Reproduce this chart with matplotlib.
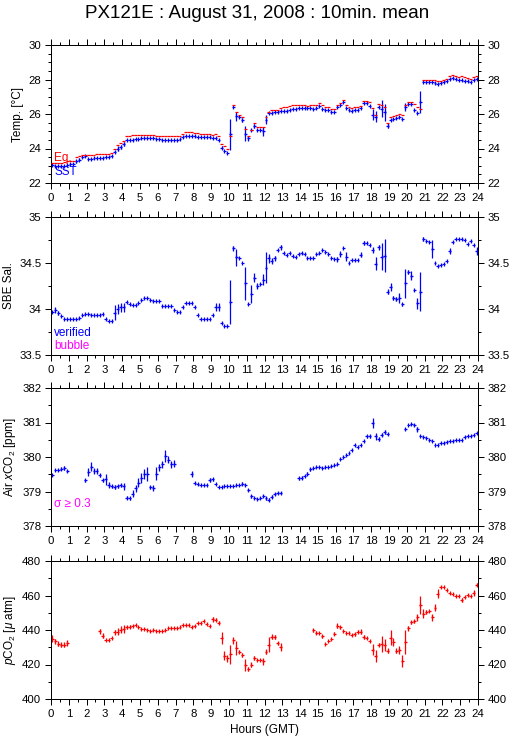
import numpy as np
import matplotlib
matplotlib.use("Agg")
import matplotlib.pyplot as plt
from matplotlib.ticker import MultipleLocator, FormatStrFormatter

nan = np.nan

# ---- data: 10-minute means, 6 slots per hour (rows = hours 0..23) ----
eq_temp = [
    [23.18, 23.18, 23.18, 23.18, 23.20, 23.25],
    [23.30, 23.30, 23.50, 23.55, 23.62, 23.65],
    [23.60, 23.60, 23.62, 23.68, 23.70, 23.70],
    [23.70, 23.70, 23.72, 24.00, 24.20, 24.30],
    [24.45, 24.72, 24.75, 24.77, 24.77, 24.78],
    [24.78, 24.80, 24.80, 24.78, 24.77, 24.75],
    [24.73, 24.70, 24.70, 24.70, 24.72, 24.72],
    [24.72, 24.75, 24.85, 24.95, 24.98, 24.97],
    [24.90, 24.87, 24.85, 24.85, 24.85, 24.83],
    [24.80, 24.82, 24.70, 24.28, 24.12, 24.00],
    [24.75, 26.53, 26.12, 25.95, 25.83, 25.15],
    [24.72, 25.05, 25.48, 25.25, 25.27, 25.25],
    [25.80, 26.12, 26.22, 26.25, 26.26, 26.35],
    [26.38, 26.40, 26.45, 26.50, 26.50, 26.50],
    [26.50, 26.50, 26.48, 26.50, 26.50, 26.55],
    [26.62, 26.55, 26.42, 26.42, 26.28, 26.27],
    [26.50, 26.65, 26.84, 26.52, 26.38, 26.35],
    [26.38, 26.40, 26.48, 26.75, 26.76, 26.72],
    [26.32, 25.95, 26.58, 26.55, 26.42, 25.50],
    [25.85, 25.90, 25.97, 26.00, 25.95, 26.55],
    [26.72, 26.72, 26.60, 26.38, 26.30, 27.97],
    [27.98, 27.98, 27.97, 27.95, 27.93, 27.93],
    [28.00, 28.05, 28.20, 28.24, 28.22, 28.12],
    [28.20, 28.12, 28.10, 28.05, 28.15, 28.20],
]
sst = [
    [23.02, 23.00, 23.00, 22.96, 22.98, 23.05],
    [23.08, 23.08, 23.25, 23.35, 23.50, 23.55],
    [23.38, 23.38, 23.45, 23.47, 23.47, 23.47],
    [23.50, 23.50, 23.55, 23.80, 24.00, 24.10],
    [24.25, 24.52, 24.52, 24.52, 24.53, 24.55],
    [24.60, 24.62, 24.62, 24.60, 24.58, 24.57],
    [24.55, 24.50, 24.48, 24.48, 24.50, 24.52],
    [24.50, 24.55, 24.65, 24.72, 24.75, 24.75],
    [24.72, 24.68, 24.66, 24.67, 24.67, 24.65],
    [24.60, 24.62, 24.50, 24.05, 23.86, 23.74],
    [24.83, 26.43, 25.87, 25.85, 25.64, 24.86],
    [24.60, 25.05, 25.30, 25.08, 25.05, 25.00],
    [25.68, 26.05, 26.08, 26.10, 26.10, 26.18],
    [26.18, 26.15, 26.25, 26.30, 26.30, 26.32],
    [26.32, 26.33, 26.35, 26.32, 26.30, 26.35],
    [26.45, 26.30, 26.26, 26.24, 26.10, 26.10],
    [26.41, 26.55, 26.68, 26.32, 26.22, 26.20],
    [26.22, 26.24, 26.35, 26.62, 26.63, 26.47],
    [25.97, 25.85, 26.38, 26.30, 26.10, 25.33],
    [25.68, 25.70, 25.75, 25.80, 25.72, 26.41],
    [26.60, 26.58, 26.25, 26.08, 26.70, 27.87],
    [27.87, 27.86, 27.85, 27.78, 27.76, 27.77],
    [27.85, 27.90, 28.05, 28.07, 28.05, 27.95],
    [27.97, 27.93, 27.92, 27.85, 28.00, 28.05],
]
sst_std = [
    [0, 0, 0, 0, 0, 0],
    [0, 0, 0.10, 0.10, 0, 0],
    [0, 0, 0, 0, 0, 0],
    [0, 0, 0, 0.05, 0.12, 0.12],
    [0.10, 0, 0, 0, 0, 0],
    [0, 0, 0, 0, 0, 0],
    [0, 0, 0, 0, 0, 0],
    [0, 0, 0, 0, 0, 0],
    [0, 0, 0, 0, 0, 0],
    [0, 0, 0, 0.08, 0, 0],
    [0.90, 0, 0.27, 0, 0.10, 0.42],
    [0.15, 0, 0.12, 0, 0, 0.25],
    [0.25, 0, 0, 0, 0, 0],
    [0, 0, 0, 0, 0, 0],
    [0, 0, 0, 0, 0, 0],
    [0, 0, 0, 0, 0, 0],
    [0, 0, 0, 0, 0, 0],
    [0, 0, 0, 0, 0, 0],
    [0.30, 0.32, 0, 0.50, 0.50, 0.12],
    [0, 0, 0, 0, 0, 0.25],
    [0, 0, 0, 0, 0.62, 0],
    [0, 0, 0, 0, 0, 0],
    [0, 0, 0, 0, 0, 0],
    [0, 0, 0, 0, 0, 0],
]
salinity = [
    [33.965, 33.99, 33.96, 33.92, 33.89, 33.89],
    [33.89, 33.89, 33.89, 33.90, 33.93, 33.95],
    [33.95, 33.93, 33.93, 33.93, 33.94, 33.945],
    [33.89, 33.865, 33.865, 33.96, 34.00, 34.02],
    [34.02, 34.08, 34.05, 34.04, 34.04, 34.07],
    [34.10, 34.12, 34.12, 34.10, 34.09, 34.09],
    [34.09, 34.03, 34.03, 34.03, 34.03, 33.99],
    [33.97, 33.97, 34.02, 34.06, 34.07, 34.07],
    [34.02, 33.93, 33.89, 33.89, 33.89, 33.89],
    [33.93, 34.02, 34.02, 33.845, 33.82, 33.81],
    [34.08, 34.66, 34.56, 34.55, 34.50, 34.28],
    [34.055, 34.16, 34.34, 34.25, 34.27, 34.32],
    [34.45, 34.55, 34.52, 34.55, 34.64, 34.67],
    [34.61, 34.59, 34.61, 34.58, 34.56, 34.60],
    [34.61, 34.60, 34.55, 34.55, 34.55, 34.60],
    [34.61, 34.64, 34.62, 34.60, 34.55, 34.54],
    [34.54, 34.60, 34.66, 34.57, 34.50, 34.53],
    [34.53, 34.53, 34.59, 34.72, 34.72, 34.70],
    [34.64, 34.49, 34.67, 34.57, 34.58, 34.19],
    [34.24, 34.12, 34.11, 34.12, 34.05, 34.28],
    [34.40, 34.36, 34.21, 34.06, 34.19, 34.76],
    [34.74, 34.73, 34.65, 34.50, 34.47, 34.48],
    [34.49, 34.52, 34.63, 34.73, 34.76, 34.76],
    [34.76, 34.75, 34.71, 34.74, 34.70, 34.63],
]
sal_std = [
    [0, 0.03, 0.02, 0, 0, 0],
    [0, 0, 0, 0, 0, 0],
    [0, 0, 0, 0, 0, 0],
    [0, 0, 0, 0.08, 0.05, 0.05],
    [0.05, 0, 0, 0, 0, 0],
    [0, 0, 0, 0, 0, 0],
    [0, 0, 0, 0, 0, 0],
    [0, 0, 0, 0, 0, 0],
    [0, 0, 0, 0, 0, 0],
    [0, 0.04, 0.04, 0, 0, 0],
    [0.24, 0.03, 0.09, 0, 0, 0.18],
    [0, 0.10, 0.05, 0.03, 0, 0.06],
    [0.17, 0.05, 0.03, 0.03, 0, 0.03],
    [0, 0, 0, 0, 0, 0],
    [0, 0, 0, 0, 0, 0],
    [0, 0, 0, 0, 0, 0],
    [0.03, 0.03, 0, 0.05, 0, 0],
    [0, 0, 0.03, 0.02, 0, 0],
    [0.03, 0.07, 0.03, 0.15, 0.18, 0.03],
    [0.04, 0.02, 0.02, 0.05, 0.02, 0.16],
    [0.02, 0.05, 0, 0.06, 0.21, 0.02],
    [0, 0, 0.10, 0, 0, 0],
    [0, 0, 0.03, 0, 0, 0],
    [0, 0, 0, 0, 0, 0.04],
]
air_xco2 = [
    [379.47, 379.63, 379.63, 379.66, 379.68, 379.59],
    [nan, nan, nan, nan, nan, 379.32],
    [379.57, 379.72, 379.60, 379.60, 379.47, 379.32],
    [379.35, 379.19, 379.15, 379.13, 379.15, 379.18],
    [379.15, 378.82, 378.80, 378.93, 379.09, 379.26],
    [379.40, 379.51, 379.50, 379.12, 379.10, 379.52],
    [379.70, 379.79, 380.03, 379.92, 379.79, 379.80],
    [nan, nan, nan, nan, nan, 379.50],
    [379.26, 379.23, 379.20, 379.20, 379.20, 379.33],
    [379.35, 379.23, 379.13, 379.13, 379.17, 379.16],
    [379.15, 379.17, 379.20, 379.20, 379.23, 379.20],
    [379.05, 378.86, 378.82, 378.79, 378.80, 378.87],
    [378.80, 378.76, 378.85, 378.93, 378.97, 378.97],
    [nan, nan, nan, nan, nan, 379.38],
    [379.40, 379.45, 379.52, 379.64, 379.68, 379.70],
    [379.70, 379.68, 379.70, 379.70, 379.75, 379.77],
    [379.80, 379.94, 380.00, 380.05, 380.12, 380.20],
    [380.34, 380.30, 380.35, 380.45, 380.60, 380.60],
    [380.98, 380.60, 380.52, 380.65, 380.72, 380.67],
    [nan, nan, nan, nan, nan, 380.81],
    [380.92, 380.97, 380.92, 380.80, 380.62, 380.58],
    [380.55, 380.50, 380.45, 380.35, 380.35, 380.40],
    [380.42, 380.43, 380.47, 380.47, 380.48, 380.50],
    [380.50, 380.58, 380.60, 380.62, 380.65, 380.70],
]
xco2_std = [
    [0, 0, 0.03, 0.05, 0.05, 0.03],
    [0, 0, 0, 0, 0, 0.05],
    [0.12, 0.13, 0.08, 0.08, 0.05, 0.05],
    [0.15, 0.08, 0.05, 0.05, 0.05, 0.05],
    [0.10, 0.05, 0.05, 0.10, 0.10, 0.12],
    [0.15, 0.15, 0.20, 0.05, 0.08, 0.20],
    [0.10, 0.10, 0.17, 0.10, 0.10, 0.10],
    [0, 0, 0, 0, 0, 0.08],
    [0, 0, 0, 0, 0, 0.05],
    [0.04, 0, 0, 0, 0, 0],
    [0, 0, 0, 0, 0.05, 0],
    [0.03, 0.05, 0, 0, 0, 0.04],
    [0.05, 0.04, 0.04, 0.04, 0.03, 0.03],
    [0, 0, 0, 0, 0, 0.05],
    [0.04, 0, 0.04, 0.04, 0, 0],
    [0, 0, 0, 0, 0, 0],
    [0, 0, 0, 0, 0, 0],
    [0, 0, 0, 0, 0.05, 0.05],
    [0.15, 0.10, 0.05, 0.05, 0.05, 0.03],
    [0, 0, 0, 0, 0, 0.04],
    [0, 0.03, 0.03, 0.08, 0, 0],
    [0, 0, 0, 0, 0, 0],
    [0, 0, 0, 0, 0, 0],
    [0, 0, 0, 0, 0, 0],
]
pco2 = [
    [435.0, 433.5, 432.0, 431.5, 431.5, 432.5],
    [nan, nan, nan, nan, nan, nan],
    [nan, nan, nan, nan, 439.2, 436.7],
    [434.2, 434.0, 435.5, 438.6, 439.0, 440.2],
    [440.5, 441.5, 442.0, 442.5, 442.7, 442.0],
    [440.8, 440.5, 439.8, 439.5, 440.0, 439.7],
    [439.3, 439.5, 440.2, 441.0, 441.2, 441.0],
    [441.3, 442.0, 442.8, 443.0, 442.8, 442.0],
    [442.2, 444.1, 444.3, 445.0, 443.5, 442.5],
    [446.2, 446.0, 444.3, 435.6, 425.1, 423.5],
    [425.9, 434.0, 429.6, 427.5, 425.5, 419.5],
    [417.4, 419.9, 423.8, 422.5, 422.5, 422.0],
    [427.5, 431.5, 436.1, 436.0, 432.3, 430.1],
    [nan, nan, nan, nan, nan, nan],
    [nan, nan, nan, nan, 439.8, 438.5],
    [438.0, 436.3, 431.7, 433.5, 435.0, 437.9],
    [442.5, 441.5, 439.5, 438.0, 438.5, 436.9],
    [437.5, 439.0, 439.0, 436.0, 435.5, 433.5],
    [428.6, 425.1, 431.5, 432.0, 431.5, 428.0],
    [435.6, 433.0, 428.0, 428.5, 422.2, 433.0],
    [441.0, 444.5, 445.0, 447.5, 454.5, 449.5],
    [450.5, 451.0, 447.5, 452.8, 461.1, 465.1],
    [465.0, 463.0, 461.5, 461.0, 460.0, 460.0],
    [457.4, 459.0, 460.5, 460.0, 461.5, 466.3],
]
pco2_std = [
    [2.0, 1.5, 1.5, 1.5, 1.5, 1.5],
    [0, 0, 0, 0, 0, 0],
    [0, 0, 0, 0, 1.5, 1.5],
    [0, 0, 0, 1.5, 2.0, 2.0],
    [2.5, 1.0, 1.0, 0, 0, 0],
    [0, 0, 0, 0, 0, 0],
    [0, 0, 0, 0, 0, 0],
    [0, 0, 0, 0, 0, 0],
    [0, 0, 0, 0, 0, 0],
    [1.5, 1.0, 1.0, 3.5, 2.5, 2.0],
    [5.5, 2.0, 4.0, 1.0, 1.0, 3.5],
    [1.0, 1.5, 1.0, 0, 0, 2.0],
    [1.5, 4.5, 1.5, 1.0, 1.0, 2.5],
    [0, 0, 0, 0, 0, 0],
    [0, 0, 0, 0, 1.0, 1.0],
    [0, 1.0, 0, 0, 0, 1.0],
    [1.5, 1.0, 0, 0, 0, 0],
    [1.0, 1.0, 1.5, 1.0, 0, 0],
    [3.0, 3.5, 1.0, 4.5, 3.5, 1.5],
    [4.5, 2.5, 1.5, 2.5, 3.5, 7.0],
    [1.5, 1.0, 1.0, 2.0, 5.0, 2.5],
    [1.0, 0, 2.0, 2.0, 2.5, 0],
    [0, 0, 0, 0, 0, 0],
    [1.0, 0, 0, 0, 1.5, 1.0],
]

hour_ticks = list(range(0, 25))
title = "PX121E : August 31, 2008 : 10min. mean"

# ---- drawing ----
plt.rcParams["font.family"] = ["Liberation Sans", "DejaVu Sans"]
plt.rcParams["mathtext.fontset"] = "custom"
plt.rcParams["mathtext.rm"] = "Liberation Sans"
plt.rcParams["mathtext.it"] = "Liberation Sans:italic"

BLUE = "#0000ff"
RED = "#ff0000"
MAG = "#ff00ff"
px = 0.72  # one pixel in points at 100 dpi

def flat(a):
    return np.array(a, dtype=float).ravel()

t = np.arange(144) / 6.0 + 1.0 / 12.0
half = 1.0 / 12.0

fig = plt.figure(figsize=(5.15, 7.39), dpi=100)
fig.text(0.5, 0.982, title, ha="center", va="center", fontsize=13.5)

L, W, H = 51 / 515, 427 / 515, 138 / 739
bottoms = [1 - 183 / 739, 1 - 355 / 739, 1 - 526 / 739, 1 - 699 / 739]
axes = [fig.add_axes([L, b, W, H]) for b in bottoms]

def pm(ax, vals, std, color, vert=True, z=2):
    v = flat(vals)
    e = flat(std) if std is not None else None
    ax.errorbar(t, v, xerr=half, yerr=e, fmt="none", ecolor=color,
                elinewidth=1.25 * px, capsize=0, zorder=z)
    if vert:
        ax.plot(t, v, ls="none", marker="|", ms=3.2, mew=1.25 * px,
                color=color, zorder=z)

def style(ax, ylim, major, minor, ylabel):
    ax.set_xlim(0, 24)
    ax.set_ylim(*ylim)
    ax.set_xticks(hour_ticks)
    ax.xaxis.set_minor_locator(MultipleLocator(0.5))
    ax.yaxis.set_major_locator(MultipleLocator(major))
    ax.yaxis.set_minor_locator(MultipleLocator(minor))
    ax.yaxis.set_major_formatter(FormatStrFormatter("%g"))
    ax.tick_params(which="both", direction="out", top=True, right=True,
                   labelright=True, labelsize=8.2, width=1.0 * px, color="black")
    ax.tick_params(which="major", length=4.5, pad=2.5)
    ax.tick_params(which="minor", length=2.5)
    for s in ax.spines.values():
        s.set_linewidth(1.0 * px)
    ax.set_ylabel(ylabel, fontsize=8.5, labelpad=3)

ax1, ax2, ax3, ax4 = axes

pm(ax1, sst, sst_std, BLUE, z=2)
pm(ax1, eq_temp, None, RED, vert=False, z=3)
style(ax1, (22, 30), 2, 0.5, "Temp. [°C]")
ax1.text(0.008, 0.18, "Eq.", color=RED, transform=ax1.transAxes, fontsize=8.5, va="center")
ax1.text(0.008, 0.078, "SST", color=BLUE, transform=ax1.transAxes, fontsize=8.5, va="center")

pm(ax2, salinity, sal_std, BLUE)
style(ax2, (33.5, 35), 0.5, 0.25, "SBE Sal.")
ax2.text(0.008, 0.157, "verified", color=BLUE, transform=ax2.transAxes, fontsize=8.5, va="center")
ax2.text(0.008, 0.066, "bubble", color=MAG, transform=ax2.transAxes, fontsize=8.5, va="center")

pm(ax3, air_xco2, xco2_std, BLUE)
style(ax3, (378, 382), 1, 0.5, r"Air $x$CO$_2$ [ppm]")
ax3.text(0.008, 0.156, "σ ≥ 0.3", color=MAG, transform=ax3.transAxes, fontsize=8.5, va="center")

pm(ax4, pco2, pco2_std, RED)
style(ax4, (400, 480), 20, 10, r"$p$CO$_2$ [$\mu$ atm]")
ax4.set_xlabel("Hours (GMT)", fontsize=8.5, labelpad=4)

fig.savefig("out.png", dpi=100)
